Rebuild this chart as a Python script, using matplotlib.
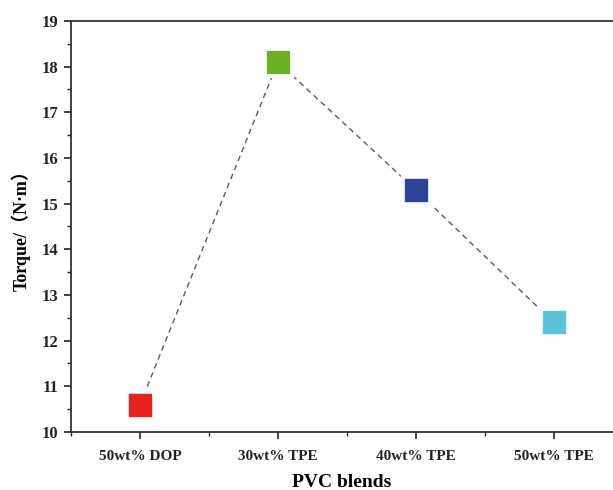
import matplotlib
matplotlib.use("Agg")
import matplotlib.pyplot as plt
from matplotlib.ticker import MultipleLocator

# data
blends = ["50wt% DOP", "30wt% TPE", "40wt% TPE", "50wt% TPE"]
torque = [10.6, 18.1, 15.3, 12.4]
colors = ["#e8231f", "#6cb324", "#2b4399", "#5bc5d8"]

plt.rcParams['font.family'] = ['Liberation Serif', 'Noto Sans CJK SC']
plt.rcParams['font.weight'] = 'bold'

fig = plt.figure(figsize=(6.13, 4.9), dpi=100)
ax = fig.add_axes([0.1158, 0.1184, 0.8842, 0.8388])

x = list(range(len(blends)))

# dashed connecting line, with a white gap around each marker
ax.plot(x, torque, linestyle=(0, (4, 3)), color='#5a5a5a', linewidth=1.0, zorder=1)
ax.scatter(x, torque, marker='s', s=480, color='white', zorder=2)
for xi, yi, c in zip(x, torque, colors):
    ax.scatter(xi, yi, marker='s', s=260, color=c, zorder=3)

ax.set_xlim(-0.5, 3.43)
ax.set_ylim(10, 19)
ax.set_xticks(x)
ax.set_xticklabels(blends)
ax.xaxis.set_minor_locator(MultipleLocator(0.5))
ax.yaxis.set_major_locator(MultipleLocator(1))
ax.yaxis.set_minor_locator(MultipleLocator(0.5))

ax.spines['right'].set_visible(False)
for s in ['left', 'bottom', 'top']:
    ax.spines[s].set_linewidth(1.3)
    ax.spines[s].set_color('#333333')

ax.tick_params(which='major', direction='out', length=5, width=1.2, colors='#222222')
ax.tick_params(which='minor', direction='out', length=3, width=1.0, colors='#222222')
ax.tick_params(axis='y', which='major', labelsize=12, pad=4)
ax.tick_params(axis='x', which='major', labelsize=11, pad=8)

ax.set_xlabel('PVC blends', fontsize=14, fontweight='bold', labelpad=8)
ax.set_ylabel('Torque/（N·m）', fontsize=13, fontweight='bold', labelpad=8)

fig.savefig('out.png', dpi=100)
